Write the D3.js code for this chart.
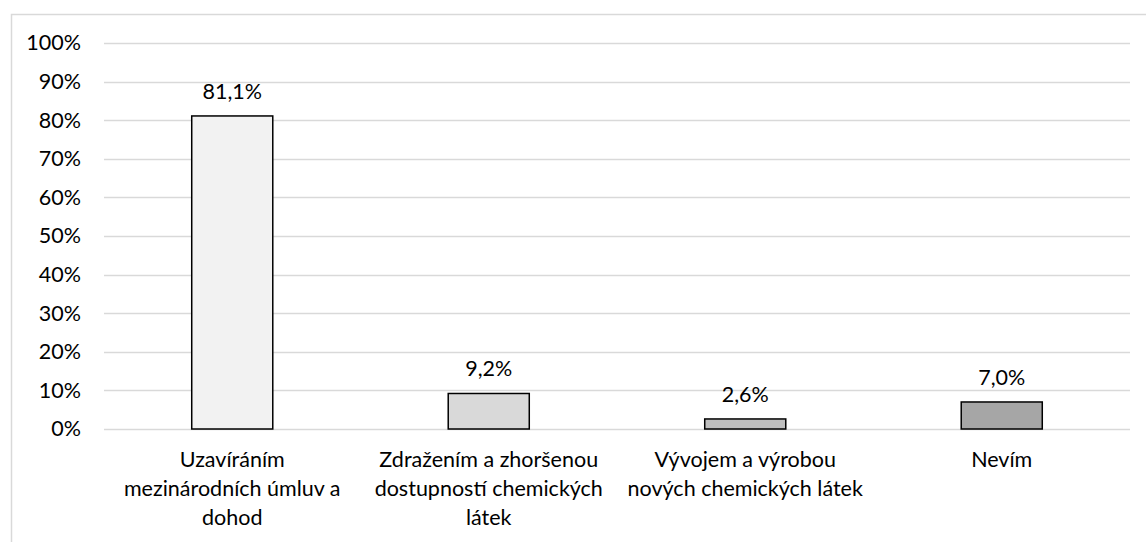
<!DOCTYPE html>
<html>
<head>
<meta charset="utf-8">
<script src="https://cdn.jsdelivr.net/npm/d3@7"></script>
<style>
  html, body { margin: 0; padding: 0; background: #fff; }
  svg { display: block; }
  text { font-family: Lato, "Open Sans", sans-serif; fill: #000; }
</style>
</head>
<body>
<svg id="chart" width="1146" height="542"></svg>
<script>
const categories = [
  "Uzavíráním mezinárodních úmluv a dohod",
  "Zdražením a zhoršenou dostupností chemických látek",
  "Vývojem a výrobou nových chemických látek",
  "Nevím"
];
const categoryLines = [
  ["Uzavíráním", "mezinárodních úmluv a", "dohod"],
  ["Zdražením a zhoršenou", "dostupností chemických", "látek"],
  ["Vývojem a výrobou", "nových chemických látek"],
  ["Nevím"]
];
const values = [81.1, 9.2, 2.6, 7.0];
const valueLabels = ["81,1%", "9,2%", "2,6%", "7,0%"];
const barColors = ["#f2f2f2", "#d9d9d9", "#bfbfbf", "#a6a6a6"];
const yTicks = [0, 10, 20, 30, 40, 50, 60, 70, 80, 90, 100];

const svg = d3.select("#chart");
const W = 1146, H = 542;
const plot = { left: 104, right: 1130, top: 43, bottom: 429 };
const FS = 21.5;

// chart frame
svg.append("path")
  .attr("d", `M11.5,${H} L11.5,14.5 L${W},14.5`)
  .attr("fill", "none").attr("stroke", "#d9d9d9").attr("stroke-width", 1.5);

const x = d3.scaleBand().domain(categories).range([plot.left, plot.right]).paddingInner(0.684).paddingOuter(0.342);
const y = d3.scaleLinear().domain([0, 100]).range([plot.bottom, plot.top]);

// gridlines
svg.append("g").selectAll("line").data(yTicks).join("line")
  .attr("x1", plot.left).attr("x2", plot.right)
  .attr("y1", d => Math.round(y(d)) + 0.5).attr("y2", d => Math.round(y(d)) + 0.5)
  .attr("stroke", "#d9d9d9").attr("stroke-width", 1.5);

// y axis
const yAxis = d3.axisLeft(y).tickValues(yTicks).tickFormat(d => d + "%").tickSize(0).tickPadding(0);
const yg = svg.append("g").attr("transform", `translate(81,0)`).call(yAxis);
yg.select(".domain").remove();
yg.selectAll("text").attr("font-size", FS).attr("font-family", "Lato, sans-serif").attr("fill", "#000");

// bars
svg.append("g").selectAll("rect").data(values).join("rect")
  .attr("x", (d, i) => x(categories[i]))
  .attr("width", x.bandwidth())
  .attr("y", d => y(d))
  .attr("height", d => y(0) - y(d))
  .attr("fill", (d, i) => barColors[i])
  .attr("stroke", "#000").attr("stroke-width", 1.5);

// value labels
svg.append("g").selectAll("text").data(values).join("text")
  .attr("x", (d, i) => x(categories[i]) + x.bandwidth() / 2)
  .attr("y", d => y(d) - 17)
  .attr("text-anchor", "middle").attr("font-size", FS)
  .text((d, i) => valueLabels[i]);

// category labels
const cg = svg.append("g").selectAll("text").data(categories).join("text")
  .attr("x", d => x(d) + x.bandwidth() / 2)
  .attr("y", plot.bottom + 38)
  .attr("text-anchor", "middle").attr("font-size", FS);
cg.each(function(d, i) {
  const t = d3.select(this);
  categoryLines[i].forEach((ln, j) => {
    t.append("tspan").attr("x", x(d) + x.bandwidth() / 2).attr("dy", j === 0 ? 0 : 29).text(ln);
  });
});
</script>
</body>
</html>
